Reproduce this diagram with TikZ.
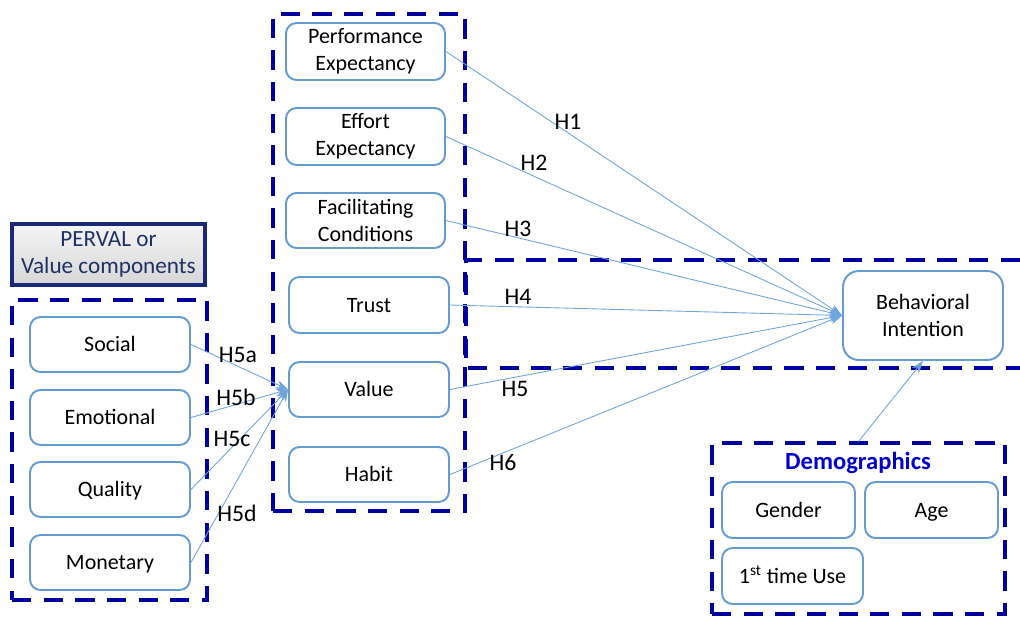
\documentclass[tikz,border=0pt]{standalone}
\usepackage{fontspec}
\setmainfont{Carlito}
\usetikzlibrary{arrows.meta}
\definecolor{boxblue}{RGB}{0,0,160}
\definecolor{edgeblue}{RGB}{100,155,210}
\definecolor{linkblue}{RGB}{110,165,220}
\definecolor{navy}{RGB}{25,40,120}
\definecolor{pervaltext}{RGB}{30,50,100}
\definecolor{demoblue}{RGB}{0,0,200}
\tikzset{
  construct/.style={draw=edgeblue, line width=1.1pt, rounded corners=6pt,
    minimum width=3.2cm, minimum height=1.1cm, align=center, inner sep=2pt,
    font=\fontsize{12.5}{15.3}\selectfont},
  oneline/.style={text height=9.5pt, text depth=1.5pt},
  groupbox/.style={draw=boxblue, line width=1.8pt, dash pattern=on 11pt off 7pt, inner sep=0pt},
  hyp/.style={-{Stealth[length=7pt,width=5pt]}, draw=linkblue, line width=0.5pt},
  hlabel/.style={font=\fontsize{13.5}{16}\selectfont, inner sep=0pt},
}
\begin{document}
\begin{tikzpicture}[x=0.02cm,y=-0.02cm]
\useasboundingbox (0,0) rectangle (1020,616);
            % Groups
\node[groupbox, minimum width=3.9cm, minimum height=6cm] (valgrp) at (109.5,450) {};
\node[groupbox, minimum width=3.84cm, minimum height=9.94cm] (utgrp) at (369,262.5) {};
\node[groupbox, minimum width=5.86cm, minimum height=3.42cm] (demo) at (858.5,528.5) {};
\draw[groupbox] (1020,260) -- (466,260) -- (466,368) -- (1020,368);
\node[draw=navy, line width=1.8pt, top color=gray!8, bottom color=gray!32,
  minimum width=3.86cm, minimum height=1.22cm, align=center, inner sep=1pt,
  text=pervaltext, font=\fontsize{13.2}{15}\selectfont] (perval) at (108.5,254.5)
  {PERVAL or\\Value components};
            % PERVAL components
\node[construct, oneline] (social)    at (110,344.5) {Social};
\node[construct, oneline] (emotional) at (110,417.5) {Emotional};
\node[construct, oneline] (quality)   at (110,489.5) {Quality};
\node[construct, oneline] (monetary)  at (110,562.5) {Monetary};
            % Constructs
\node[construct, minimum width=3.18cm, minimum height=1.14cm] (perf)   at (365.5,51.5)  {Performance\\Expectancy};
\node[construct, minimum width=3.18cm, minimum height=1.14cm] (effort) at (365.5,136.5) {Effort\\Expectancy};
\node[construct, minimum width=3.18cm, minimum height=1.1cm]  (facil)  at (365.5,220.5) {Facilitating\\Conditions};
\node[construct, oneline, minimum height=1.12cm] (trust) at (369,305)   {Trust};
\node[construct, oneline, minimum height=1.1cm]  (value) at (369,389.5) {Value};
\node[construct, oneline, minimum height=1.1cm]  (habit) at (369,474.5) {Habit};
\node[construct, minimum height=1.78cm, rounded corners=9pt] (bi) at (923,315.5) {Behavioral\\Intention};
            % Demographics
\node[font=\fontsize{14}{16}\selectfont\bfseries, text=demoblue] (demotitle) at (858,463) {Demographics};
\node[construct, oneline, minimum width=2.66cm, minimum height=1.12cm] (gender) at (788.5,510) {Gender};
\node[construct, oneline, minimum width=2.66cm, minimum height=1.12cm] (age)    at (931.5,510) {Age};
\node[construct, oneline, minimum width=2.82cm, minimum height=1.12cm] (first)  at (792.5,576) {1\textsuperscript{st} time Use};
            % Hypotheses
\draw[hyp] (perf.east)   -- (bi.west);
\draw[hyp] (effort.east) -- (bi.west);
\draw[hyp] (facil.east)  -- (bi.west);
\draw[hyp] (trust.east)  -- (bi.west);
\draw[hyp] (value.east)  -- (bi.west);
\draw[hyp] (habit.east)  -- (bi.west);
\draw[hyp] (social.east)    -- (value.west);
\draw[hyp] (emotional.east) -- (value.west);
\draw[hyp] (quality.east)   -- (value.west);
\draw[hyp] (monetary.east)  -- (value.west);
\draw[hyp] (demo.north) -- (bi.south);
            % Labels
\node[hlabel] (h1) at (568,122) {H1};
\node[hlabel] (h2) at (534,163) {H2};
\node[hlabel] (h3) at (518,229) {H3};
\node[hlabel] (h4) at (518,297) {H4};
\node[hlabel] (h5) at (515,389) {H5};
\node[hlabel] (h6) at (503,463) {H6};
\node[hlabel] (h5a) at (238,355) {H5a};
\node[hlabel] (h5b) at (236,397) {H5b};
\node[hlabel] (h5c) at (232,439) {H5c};
\node[hlabel] (h5d) at (237,513) {H5d};
\end{tikzpicture}
\end{document}
